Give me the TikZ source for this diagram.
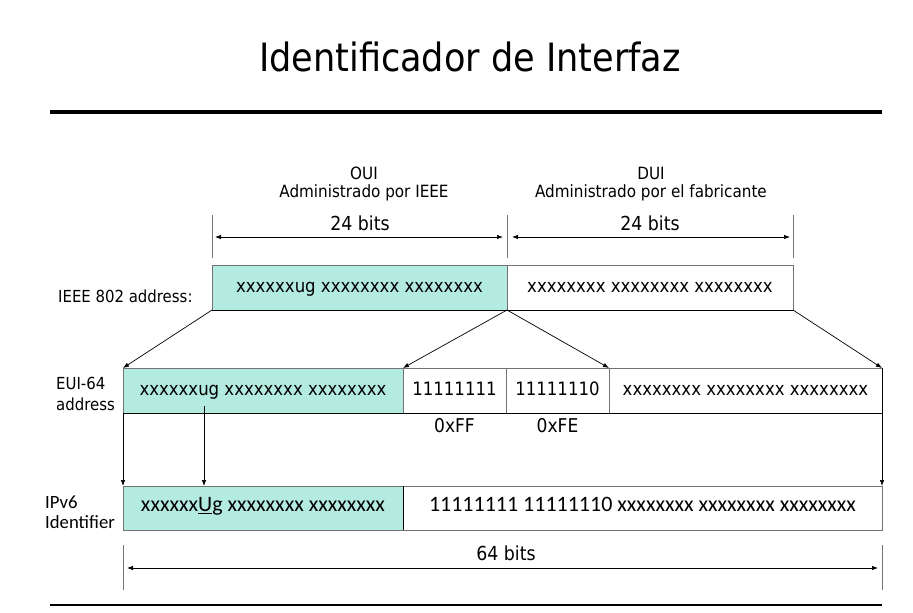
\documentclass[tikz,border=0pt]{standalone}
\usepackage{fontspec}
\setmainfont{DejaVu Sans Condensed}
\newfontfamily\calfont{Carlito}
\usepackage{xcolor}
\usepackage{tikz}
\usetikzlibrary{arrows.meta, positioning}

\definecolor{ouifill}{RGB}{180,235,224}

\begin{document}
\begin{tikzpicture}[x=1pt, y=-1pt, >={Latex[length=6pt, width=4.5pt]},
    field/.style={draw=black!55, line width=0.8pt, minimum height=45pt,
        inner sep=0pt, outer sep=0pt, text height=1.03em, text depth=0.1em,
        font=\fontsize{18.4}{20}\selectfont},
    ouifield/.style={field, fill=ouifill},
    ipfield/.style={field, minimum height=44pt, text height=0.82em, text depth=0.06em,
        font=\calfont\fontsize{22}{24}\selectfont},
    rowlabel/.style={anchor=west, align=left, inner sep=0pt, font=\fontsize{16.6}{21}\selectfont},
    bits/.style={font=\fontsize{19.3}{22}\selectfont},
    tick/.style={line width=0.7pt, black!55},
    dim/.style={<->, line width=0.7pt},
    map/.style={->, line width=0.7pt}]
    \useasboundingbox (0,0) rectangle (913,613);

    % Titulo y lineas
    \node (titulo) at (470,57) {\fontsize{39}{44}\selectfont Identificador de Interfaz};
    \draw[line width=3.5pt] (50,112) -- (882,112);
    \draw[line width=1.5pt] (50,605) -- (882,605);

    % Direccion IEEE 802
    \node[ouifield, minimum width=295pt] (oui) at (359.5,287.5) {xxxxxxug xxxxxxxx xxxxxxxx};
    \node[field, minimum width=286pt] (dui) at (650,287.5) {xxxxxxxx xxxxxxxx xxxxxxxx};
    \draw[line width=0.9pt] (oui.south west) -- (dui.south east);
    \node[rowlabel] (lblieee) at (58,296) {IEEE 802 address:};

    % Cotas de 24 bits
    \coordinate (t1) at (212,215);
    \coordinate (t2) at (507,215);
    \coordinate (t3) at (793,215);
    \foreach \t in {t1,t2,t3}
        \draw[tick] (\t) -- ++(0,43);
    \coordinate (a1) at (215,237);
    \coordinate (a2) at (503,237);
    \coordinate (a3) at (512,237);
    \coordinate (a4) at (790,237);
    \draw[dim] (a1) -- (a2);
    \draw[dim] (a3) -- (a4);
    \node[bits] (bitsoui) at (360,223) {24 bits};
    \node[bits] (bitsdui) at (650,223) {24 bits};
    \node[font=\fontsize{16.9}{17.5}\selectfont, align=center] (txtoui) at (364,184) {OUI\\Administrado por IEEE};
    \node[font=\fontsize{16.9}{17.5}\selectfont, align=center] (txtdui) at (651,184) {DUI\\Administrado por el fabricante};

    % Direccion EUI-64
    \node[ouifield, minimum width=280pt] (euia) at (263,390.5) {xxxxxxug xxxxxxxx xxxxxxxx};
    \node[field, minimum width=103pt] (euib) at (454.5,390.5) {11111111};
    \node[field, minimum width=103pt] (euic) at (557.5,390.5) {11111110};
    \node[field, minimum width=273pt] (euid) at (745.5,390.5) {xxxxxxxx xxxxxxxx xxxxxxxx};
    \draw[line width=0.9pt] (euia.south west) -- (euid.south east) -- (euid.north east);
    \node[rowlabel] (lbleui) at (56,394) {EUI-64\\address};
    \node[font=\fontsize{19}{20}\selectfont] (hexff) at (454.5,426) {0xFF};
    \node[font=\fontsize{19}{20}\selectfont] (hexfe) at (557.5,426) {0xFE};

    % Flechas de IEEE 802 a EUI-64
    \draw[map] (oui.south west) -- (euia.north west);
    \draw[map] (oui.south east) -- (euib.north west);
    \draw[map] (oui.south east) -- (euic.north east);
    \draw[map] (dui.south east) -- (euid.north east);

    % Identificador IPv6
    \node[ipfield, fill=ouifill, minimum width=280pt] (ipa) at (263,508) {xxxxxx\underline{U}g xxxxxxxx xxxxxxxx};
    \node[ipfield, minimum width=479pt] (ipb) at (642.5,508) {11111111 11111110 xxxxxxxx xxxxxxxx xxxxxxxx};
    \draw[line width=0.9pt] (ipa.north east) -- (ipa.south east);
    \node[rowlabel, font=\calfont\fontsize{18.7}{20}\selectfont] (lblip) at (45,512) {IPv6\\Identifier};

    % Flechas de EUI-64 a IPv6
    \coordinate (bitu) at (204,406);
    \draw[map] (bitu) -- (bitu |- ipa.north);
    \draw[map] (euia.south west) -- (ipa.north west);
    \draw[map] (euid.south east) -- (ipb.north east);

    % Cota de 64 bits
    \coordinate (b1) at (123,545);
    \coordinate (b2) at (882,545);
    \foreach \b in {b1,b2}
        \draw[tick] (\b) -- ++(0,45);
    \coordinate (c1) at (127,568);
    \coordinate (c2) at (878,568);
    \draw[dim] (c1) -- (c2);
    \node[bits] (bitsip) at (506,553) {64 bits};
\end{tikzpicture}
\end{document}
